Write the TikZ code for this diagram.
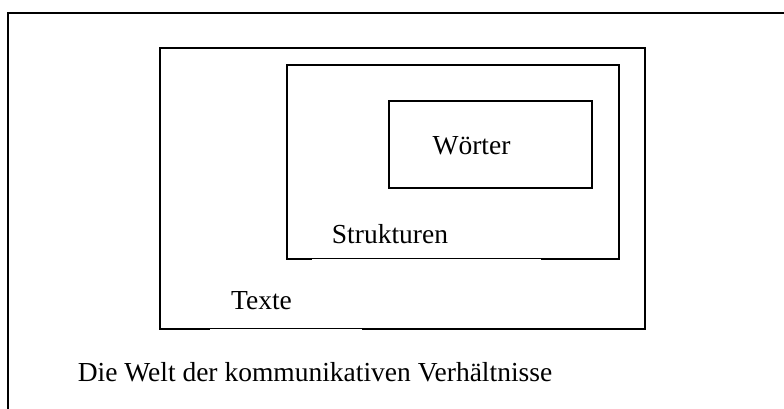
\documentclass[tikz,border=0pt]{standalone}
\usepackage{fontspec}
\setmainfont{Liberation Serif}
\begin{document}
\begin{tikzpicture}[x=1pt,y=-1pt,
  box/.style={draw=black, line width=1.5pt, inner sep=0pt, rectangle},
  lbl/.style={font=\fontsize{27.5}{33}\selectfont, inner sep=0pt, anchor=base},
  thinner/.style={draw=white, line width=0.6pt}]
\useasboundingbox (0,0) rectangle (784,409);
\draw[line width=1.5pt] (8,409) -- (8,13) -- (784,13);
\node[box, minimum width=485pt, minimum height=281pt] (texte) at (402.5,188.5) {};
\node[box, minimum width=332pt, minimum height=194pt] (strukt) at (453,162) {};
\node[box, minimum width=203pt, minimum height=87pt] (woerter) at (490.5,144.5) {};
\draw[thinner] ([xshift=51pt]texte.south west) -- ([xshift=203pt]texte.south west);
\draw[thinner] ([xshift=26pt]strukt.south west) -- ([xshift=255pt]strukt.south west);
\node[lbl] (tw) at (471.5,154) {Wörter};
\node[lbl] (ts) at (390,243) {Strukturen};
\node[lbl] (tt) at (261.5,309) {Texte};
\node[lbl] (tk) at (315,381) {Die Welt der kommunikativen Verhältnisse};
\end{tikzpicture}
\end{document}
